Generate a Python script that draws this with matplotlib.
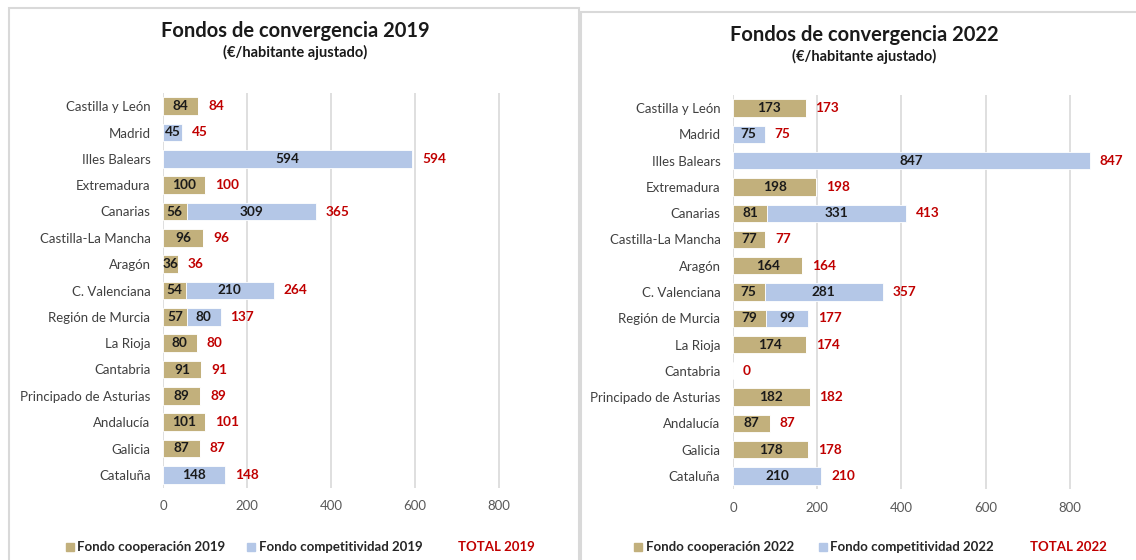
import matplotlib
matplotlib.use("Agg")
import matplotlib.pyplot as plt
from matplotlib.patches import Rectangle
import numpy as np

plt.rcParams['font.family'] = ['Lato', 'DejaVu Sans']

categories = ["Castilla y León", "Madrid", "Illes Balears", "Extremadura", "Canarias",
              "Castilla-La Mancha", "Aragón", "C. Valenciana", "Región de Murcia", "La Rioja",
              "Cantabria", "Principado de Asturias", "Andalucía", "Galicia", "Cataluña"]
coop_2019 = [84, 0, 0, 100, 56, 96, 36, 54, 57, 80, 91, 89, 101, 87, 0]
comp_2019 = [0, 45, 594, 0, 309, 0, 0, 210, 80, 0, 0, 0, 0, 0, 148]
total_2019 = [84, 45, 594, 100, 365, 96, 36, 264, 137, 80, 91, 89, 101, 87, 148]
coop_2022 = [173, 0, 0, 198, 81, 77, 164, 75, 79, 174, 0, 182, 87, 178, 0]
comp_2022 = [0, 75, 847, 0, 331, 0, 0, 281, 99, 0, 0, 0, 0, 0, 210]
total_2022 = [173, 75, 847, 198, 413, 77, 164, 357, 177, 174, 0, 182, 87, 178, 210]
x_ticks = [0, 200, 400, 600, 800]

GOLD = "#C2B07C"
BLUE = "#B4C7E7"
RED = "#C00000"
GRID = "#D9D9D9"

W, H = 1136, 560
fig = plt.figure(figsize=(W / 100, H / 100), dpi=100)


def fx(px):
    return px / W


def fy(py):
    return 1 - py / H


# panel borders
fig.patches.append(Rectangle((fx(9), fy(575)), fx(579 - 9), (575 - 8) / H,
                             transform=fig.transFigure, fill=False,
                             edgecolor=GRID, lw=1.5))
fig.patches.append(Rectangle((fx(581), fy(575)), fx(1150 - 581), (575 - 12) / H,
                             transform=fig.transFigure, fill=False,
                             edgecolor=GRID, lw=1.5))


def draw(ax_rect, coop, comp, total, year, title_x, title_y, legend_pos):
    ax = fig.add_axes(ax_rect)
    y = np.arange(len(categories))
    coop = np.array(coop)
    comp = np.array(comp)
    ax.barh(y, coop, height=0.66, color=GOLD, edgecolor="white", lw=0.6, zorder=3)
    ax.barh(y, comp, left=coop, height=0.66, color=BLUE, edgecolor="white", lw=0.6, zorder=3)
    for i in range(len(categories)):
        if coop[i] > 0:
            ax.text(coop[i] / 2, y[i], str(coop[i]), ha="center", va="center",
                    fontsize=9.8, fontweight="bold", color="#1a1a1a", zorder=4)
        if comp[i] > 0:
            ax.text(coop[i] + comp[i] / 2, y[i], str(comp[i]), ha="center", va="center",
                    fontsize=9.8, fontweight="bold", color="#1a1a1a", zorder=4)
        ax.annotate(str(total[i]), xy=(coop[i] + comp[i], y[i]), xytext=(7, 0),
                    textcoords="offset points", ha="left", va="center",
                    fontsize=9.8, fontweight="bold", color=RED, zorder=4)
    ax.set_xlim(0, 900)
    ax.set_ylim(len(categories) - 0.5, -0.5)
    ax.set_yticks(y)
    ax.set_yticklabels(categories, fontsize=9.5, color="#404040")
    ax.set_xticks(x_ticks)
    ax.set_xticklabels([str(t) for t in x_ticks], fontsize=9.5, color="#595959")
    ax.tick_params(axis="y", length=0, pad=9)
    ax.tick_params(axis="x", length=0, pad=9)
    for s in ax.spines.values():
        s.set_visible(False)
    ax.grid(axis="x", color=GRID, lw=1.2, zorder=0)
    ax.set_axisbelow(True)

    fig.text(fx(title_x), fy(title_y), f"Fondos de convergencia {year}", ha="center",
             va="center", fontsize=14.5, fontweight="bold", color="#1a1a1a")
    fig.text(fx(title_x), fy(title_y + 21), "(€/habitante ajustado)", ha="center",
             va="center", fontsize=10.5, fontweight="bold", color="#1a1a1a")

    # legend
    (sq1, t1, sq2, t2, t3, ly) = legend_pos
    s = 8
    fig.patches.append(Rectangle((fx(sq1 - s / 2), fy(ly + s / 2)), s / W, s / H,
                                 transform=fig.transFigure, color=GOLD))
    fig.text(fx(t1), fy(ly), f"Fondo cooperación {year}", ha="left", va="center",
             fontsize=9.5, fontweight="bold", color="#262626")
    fig.patches.append(Rectangle((fx(sq2 - s / 2), fy(ly + s / 2)), s / W, s / H,
                                 transform=fig.transFigure, color=BLUE))
    fig.text(fx(t2), fy(ly), f"Fondo competitividad {year}", ha="left", va="center",
             fontsize=9.5, fontweight="bold", color="#262626")
    fig.text(fx(t3), fy(ly), f"TOTAL {year}", ha="left", va="center",
             fontsize=9.5, fontweight="bold", color=RED)
    return ax


# left: x0=163, 900 at 541; y 93..488
draw([fx(163), fy(488), (541 - 163) / W, (488 - 93) / H],
     coop_2019, comp_2019, total_2019, 2019, 295, 31,
     (70, 77, 251, 259, 458, 547))
# right: x0=733, 900 at 1112; y 95..489
draw([fx(733), fy(489), (1112 - 733) / W, (489 - 95) / H],
     coop_2022, comp_2022, total_2022, 2022, 864, 35,
     (638, 646, 823, 830, 1030, 547))

fig.savefig("out.png", dpi=100, facecolor="white")
